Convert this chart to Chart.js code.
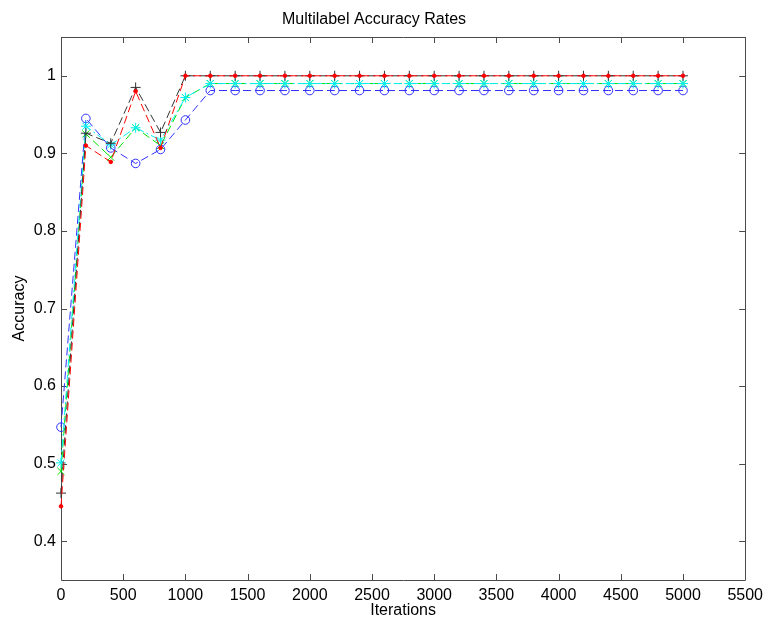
<!DOCTYPE html>
<html lang="en">
<head>
<meta charset="UTF-8">
<title>Multilabel Accuracy Rates</title>
<script src="https://cdn.jsdelivr.net/npm/chart.js"></script>
<style>
  body { margin: 0; background: #fff; }
  #wrap { width: 769px; height: 620px; }
</style>
</head>
<body>
<div id="wrap"><canvas id="accChart" width="769" height="620"></canvas></div>
<script>
// iterations at which accuracy was measured
const iterations = [0, 200, 400, 600, 800, 1000, 1200, 1400, 1600, 1800, 2000, 2200, 2400,
                    2600, 2800, 3000, 3200, 3400, 3600, 3800, 4000, 4200, 4400, 4600, 4800, 5000];

// one array per run (marker in the name)
const accPlus   = [0.462, 0.926, 0.913, 0.985, 0.927, 1, 1, 1, 1, 1, 1, 1, 1,
                   1, 1, 1, 1, 1, 1, 1, 1, 1, 1, 1, 1, 1];
const accDot    = [0.445, 0.910, 0.889, 0.980, 0.907, 1, 1, 1, 1, 1, 1, 1, 1,
                   1, 1, 1, 1, 1, 1, 1, 1, 1, 1, 1, 1, 1];
const accX      = [0.490, 0.925, 0.895, 0.933, 0.910, 0.972, 0.99, 0.99, 0.99, 0.99, 0.99, 0.99, 0.99,
                   0.99, 0.99, 0.99, 0.99, 0.99, 0.99, 0.99, 0.99, 0.99, 0.99, 0.99, 0.99, 0.99];
const accStar   = [0.501, 0.935, 0.911, 0.933, 0.917, 0.972, 0.99, 0.99, 0.99, 0.99, 0.99, 0.99, 0.99,
                   0.99, 0.99, 0.99, 0.99, 0.99, 0.99, 0.99, 0.99, 0.99, 0.99, 0.99, 0.99, 0.99];
const accCircle = [0.547, 0.945, 0.907, 0.887, 0.905, 0.943, 0.981, 0.981, 0.981, 0.981, 0.981, 0.981, 0.981,
                   0.981, 0.981, 0.981, 0.981, 0.981, 0.981, 0.981, 0.981, 0.981, 0.981, 0.981, 0.981, 0.981];

const xTicks = [0, 500, 1000, 1500, 2000, 2500, 3000, 3500, 4000, 4500, 5000, 5500];
const yTicks = [0.4, 0.5, 0.6, 0.7, 0.8, 0.9, 1];

const axisColor = '#4a4a4a';
const tickLen = 6;
const fontFamily = '"Liberation Sans", Arial, Helvetica, sans-serif';

// box around the plot area with inward ticks on every side
const boxPlugin = {
    id: 'boxAxes',
    beforeDatasetsDraw(chart) {
        const { ctx, chartArea: a, scales } = chart;
        ctx.save();
        ctx.strokeStyle = axisColor;
        ctx.lineWidth = 1;
        ctx.beginPath();
        ctx.rect(Math.round(a.left) + 0.5, Math.round(a.top) + 0.5,
                 Math.round(a.right - a.left), Math.round(a.bottom - a.top));
        xTicks.forEach(v => {
            const px = Math.round(scales.x.getPixelForValue(v)) + 0.5;
            ctx.moveTo(px, a.bottom);
            ctx.lineTo(px, a.bottom - tickLen);
            ctx.moveTo(px, a.top);
            ctx.lineTo(px, a.top + tickLen);
        });
        yTicks.forEach(v => {
            const py = Math.round(scales.y.getPixelForValue(v)) + 0.5;
            ctx.moveTo(a.left, py);
            ctx.lineTo(a.left + tickLen, py);
            ctx.moveTo(a.right, py);
            ctx.lineTo(a.right - tickLen, py);
        });
        ctx.stroke();
        ctx.restore();
    }
};

function series(label, values, color, style, radius, dash, filled) {
    return {
        label: label,
        data: iterations.map((x, i) => ({ x: x, y: values[i] })),
        borderColor: color,
        borderWidth: 1,
        borderDash: dash,
        pointStyle: style,
        pointRadius: radius,
        pointBorderColor: color,
        pointBorderWidth: 1,
        pointBackgroundColor: filled ? color : 'rgba(0,0,0,0)',
        fill: false,
        tension: 0,
        clip: false
    };
}

new Chart(document.getElementById('accChart'), {
    type: 'line',
    data: {
        datasets: [
            series('dot', accDot, '#ff0000', 'circle', 1.8, [8, 4], true),
            series('plus', accPlus, '#333333', 'cross', 5, [8, 4], false),
            series('star', accStar, '#00f0f0', 'star', 5, [8, 3, 2, 3], false),
            series('x', accX, '#00e000', 'crossRot', 5, [8, 4], false),
            series('circle', accCircle, '#3030ff', 'circle', 4.3, [8, 4], false)
        ]
    },
    options: {
        responsive: false,
        animation: false,
        events: [],
        layout: { padding: { top: 0, right: 21, bottom: 0, left: 0 } },
        plugins: {
            legend: { display: false },
            tooltip: { enabled: false },
            title: {
                display: true,
                text: 'Multilabel Accuracy Rates',
                color: '#000',
                font: { family: fontFamily, size: 16, weight: 'normal' },
                padding: { top: 9.5, bottom: 8.3 }
            }
        },
        scales: {
            x: {
                type: 'linear',
                min: 0,
                max: 5500,
                grid: { display: false, drawTicks: false },
                border: { display: false },
                afterBuildTicks: scale => { scale.ticks = xTicks.map(v => ({ value: v })); },
                afterFit: scale => { scale.height = 40; },
                ticks: {
                    color: '#000',
                    padding: 6,
                    maxRotation: 0,
                    autoSkip: false,
                    font: { family: fontFamily, size: 16 },
                    callback: v => String(v)
                },
                title: {
                    display: true,
                    text: 'Iterations',
                    color: '#000',
                    font: { family: fontFamily, size: 16 },
                    padding: { top: 0, bottom: 0 }
                }
            },
            y: {
                min: 0.35,
                max: 1.05,
                grid: { display: false, drawTicks: false },
                border: { display: false },
                afterBuildTicks: scale => { scale.ticks = yTicks.map(v => ({ value: v })); },
                afterFit: scale => { scale.width = 61; },
                ticks: {
                    color: '#000',
                    padding: 5,
                    font: { family: fontFamily, size: 16 },
                    callback: v => String(Math.round(v * 10) / 10)
                },
                title: {
                    display: true,
                    text: 'Accuracy',
                    color: '#000',
                    font: { family: fontFamily, size: 16 },
                    padding: { top: 10, bottom: 0 }
                }
            }
        }
    },
    plugins: [boxPlugin]
});
</script>
</body>
</html>
